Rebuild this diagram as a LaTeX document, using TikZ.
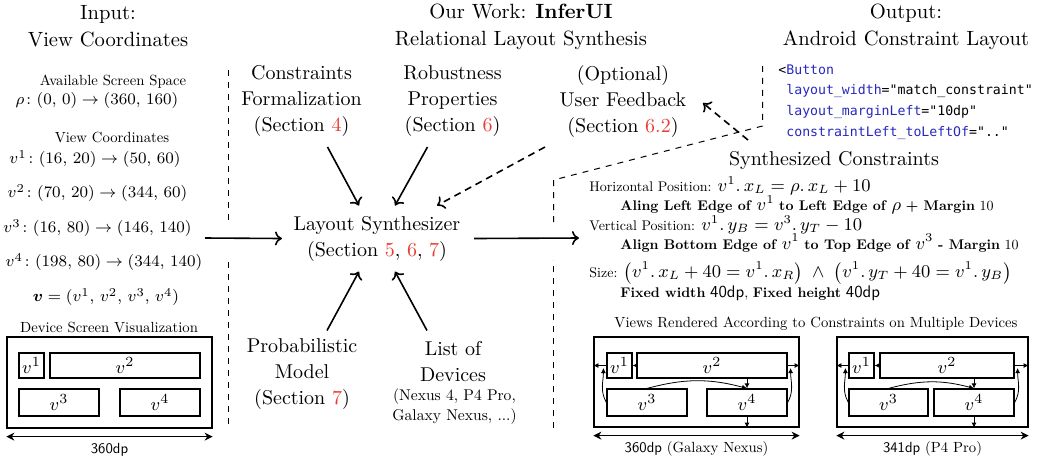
\documentclass[tikz,border=0pt]{standalone}
\usepackage{amsmath}
\usepackage{fontspec}
\setmainfont{lmroman10-regular.otf}[BoldFont=lmroman10-bold.otf, ItalicFont=lmroman10-italic.otf, BoldItalicFont=lmroman10-bolditalic.otf]
\setsansfont{lmsans10-regular.otf}[BoldFont=lmsans10-bold.otf]
\setmonofont{DejaVu Sans Mono}
\usetikzlibrary{arrows.meta,calc}
\definecolor{secred}{RGB}{232,60,50}
\definecolor{codeblue}{RGB}{40,40,190}
\newcommand{\sref}[1]{\textcolor{secred}{#1}}
\newcommand{\mm}[1]{{\fontsize{8.8}{10}\selectfont$#1$}}
\newcommand{\dd}{\mathpunct{.}}
\newcommand{\cm}{,\,}
\tikzset{
  ttl/.style={align=center, font=\fontsize{10.3}{13.5}\selectfont, inner sep=0},
  lbl/.style={align=center, font=\fontsize{10}{13}\selectfont, inner sep=0},
  sml/.style={align=center, font=\fontsize{7.8}{10}\selectfont, inner sep=0},
  sub/.style={font=\fontsize{7.35}{9}\selectfont, inner sep=0},
  mth/.style={font=\fontsize{8}{10}\selectfont, inner sep=0},
  con/.style={font=\fontsize{7}{9}\selectfont, inner sep=0, anchor=west},
  code/.style={font=\ttfamily\fontsize{6.6}{10}\selectfont, inner sep=0, anchor=west},
  arr/.style={line width=0.8pt, -{To[length=3.5pt,width=7pt]}},
  darr/.style={arr, dash pattern=on 3.5pt off 2.5pt},
  sepl/.style={line width=0.5pt, dash pattern=on 3pt off 3pt},
  outer/.style={draw, line width=0.6pt, inner sep=0, minimum height=45pt},
  vb/.style={draw, line width=0.6pt, inner sep=0, font=\fontsize{9.5}{10}\selectfont},
  vt/.style={vb, minimum height=12.5pt},
  vw/.style={vb, minimum height=13.5pt},
  tinyarr/.style={line width=0.4pt, -{Latex[length=2.5pt,width=2.5pt]}},
  dim/.style={line width=0.6pt, {Stealth[length=4pt,width=4pt]}-{Stealth[length=4pt,width=4pt]}},
}
\begin{document}
\begin{tikzpicture}[x=0.5pt,y=-0.5pt]
\useasboundingbox (0,0) rectangle (1047,462);

% titles
\node[ttl] (t1) at (108,26.5) {Input:\\View Coordinates};
\node[ttl] (t2) at (521,26.5) {Our Work: \textbf{InferUI}\\Relational Layout Synthesis};
\node[ttl] (t3) at (906,26.5) {Output:\\Android Constraint Layout};

% left column
\node[sub] (as1) at (113,82) {Available Screen Space};
\node[mth] (rho) at (97,100) {$\rho\colon (0\cm 0) \rightarrow (360\cm 160)$};
\node[sub] (vc) at (112,137) {View Coordinates};
\node[mth] (p1) at (95,159) {$v^1\colon (16\cm 20) \rightarrow (50\cm 60)$};
\node[mth] (p2) at (97.5,193) {$v^2\colon (70\cm 20) \rightarrow (344\cm 60)$};
\node[mth] (p3) at (97.5,228) {$v^3\colon (16\cm 80) \rightarrow (146\cm 140)$};
\node[mth] (p4) at (104,262) {$v^4\colon (198\cm 80) \rightarrow (344\cm 140)$};
\node[mth] (pv) at (106,297) {$\boldsymbol{v} = (v^1\cm v^2\cm v^3\cm v^4)$};
\node[sub] (dsv) at (109,327) {Device Screen Visualization};

% left device
\node[outer, minimum width=102.5pt, minimum height=45.5pt] (Lo) at (109.5,382.5) {};
\node[vt, minimum width=12.5pt] (L1) at (31.5,365.5) {$v^1$};
\node[vt, minimum width=75pt] (L2) at (125,365.5) {$v^2$};
\node[vw, minimum width=40pt] (L3) at (59,402.5) {$v^3$};
\node[vw, minimum width=40pt] (L4) at (160,402.5) {$v^4$};
\draw[dim] ($(Lo.south west)+(0,8)$) -- ($(Lo.south east)+(0,8)$);
\node[sub] (Ld) at ($(Lo.south)+(0,21)$) {\textsf{360dp}};

% separators
\draw[sepl] (228.5,70) -- (228.5,222);
\draw[sepl] (228.5,262) -- (228.5,428);
\draw[sepl] (553.5,428) -- (553.5,260);
\draw[sepl] (553.5,222) -- (553.5,180) -- (762.5,126) -- (762.5,66);

% middle
\node[lbl] (cf) at (301.5,101) {Constraints\\Formalization\\(Section \sref{4})};
\node[lbl] (rp) at (452.5,101) {Robustness\\Properties\\(Section \sref{6})};
\node[lbl] (uf) at (623,101) {(Optional)\\User Feedback\\(Section \sref{6.2})};
\node[lbl] (ls) at (377,238.5) {Layout Synthesizer\\(Section \sref{5}, \sref{6}, \sref{7})};
\node[lbl] (pm) at (302,374.5) {Probabilistic\\Model\\(Section \sref{7})};
\node[lbl] (ld) at (453,361.5) {List of\\Devices};
\node[sml] (ldx) at (454.5,407) {(Nexus 4, P4 Pro,\\Galaxy Nexus, ...)};

\coordinate (inp) at (205,238);
\coordinate (outp) at (579,238);

\draw[arr] ($(cf)+(26,46)$) -- ($(ls)+(-18,-33)$);
\draw[arr] ($(rp)+(-25,46)$) -- ($(ls)+(18,-33)$);
\draw[darr] ($(uf)+(-78,46)$) -- ($(ls)+(60,-33)$);
\draw[arr] ($(pm)+(25,-44)$) -- ($(ls)+(-18,33)$);
\draw[arr] ($(ld)+(-26,-31)$) -- ($(ls)+(18,33)$);
\draw[arr] (inp) -- ($(ls)+(-95,0)$);
\draw[arr] ($(ls)+(97,0)$) -- (outp);

% output: code
\node[code] (k1) at (778,70) {<\textcolor{codeblue}{Button}};
\node[code] (k2) at (778,91) {\hphantom{<}\textcolor{codeblue}{layout\_width}="match\_constraint"};
\node[code] (k3) at (778,112) {\hphantom{<}\textcolor{codeblue}{layout\_marginLeft}="10dp"};
\node[code] (k4) at (778,133) {\hphantom{<}\textcolor{codeblue}{constraintLeft\_toLeftOf}=".."};

\node[lbl] (sc) at (834,160) {Synthesized Constraints};
\draw[darr] ($(sc)+(-86,-20)$) -- ($(uf)+(80,2)$);

\node[con] (c1) at (589,186) {Horizontal Position: \mm{v^1\dd x_L = \rho\dd x_L + 10}};
\node[con] (c2) at (620,205) {\textbf{Aling Left Edge of} \mm{v^1} \textbf{to Left Edge of} \mm{\rho} \textbf{+ Margin} 10};
\node[con] (c3) at (589,225) {Vertical Position: \mm{v^1\dd y_B = v^3\dd y_T - 10}};
\node[con] (c4) at (620,243) {\textbf{Align Bottom Edge of} \mm{v^1} \textbf{to Top Edge of} \mm{v^3} \textbf{- Margin} 10};
\node[con] (c5) at (589,273) {Size: \mm{\bigl(v^1\dd x_L + 40 = v^1\dd x_R\bigr) \;\land\; \bigl(v^1\dd y_T + 40 = v^1\dd y_B\bigr)}};
\node[con] (c6) at (620,293) {\textbf{Fixed width} {\fontsize{8.4}{9}\selectfont\textsf{40dp}}, \textbf{Fixed height} {\fontsize{8.4}{9}\selectfont\textsf{40dp}}};

\node[sub] (vr) at (816,324) {Views Rendered According to Constraints on Multiple Devices};

% device A (Galaxy Nexus)
\node[outer, minimum width=102.5pt] (Ao) at (696.5,382) {};
\node[vt, minimum width=12.5pt] (A1) at (619.5,365.5) {$v^1$};
\node[vt, minimum width=75pt] (A2) at (712,365.5) {$v^2$};
\node[vw, minimum width=40pt] (A3) at (647,402.5) {$v^3$};
\node[vw, minimum width=40pt] (A4) at (747,402.5) {$v^4$};
\draw[tinyarr] (A1.west) -- (A1.west -| Ao.west);
\draw[tinyarr] (A2.west) -- (A1.east);
\draw[tinyarr] (A2.east) -- (A2.east -| Ao.east);
\draw[tinyarr] (A2.south -| A4) -- (A4.north);
\draw[tinyarr] (A4.south) -- (A4.south |- Ao.south);
\draw[tinyarr] (A3.north) to[bend left=15] (A4.north);
\draw[tinyarr] (A3.west) to[out=120,in=-90] ($(A1.west)+(-3,2.5)$);
\draw[tinyarr] (A4.east) to[out=60,in=-90] ($(A2.east)+(3,2.5)$);
\draw[dim] ($(Ao.south west)+(0,8)$) -- ($(Ao.south east)+(0,8)$);
\node[sub] (Ad) at ($(Ao.south)+(0,21)$) {\textsf{360dp} (Galaxy Nexus)};

% device B (P4 Pro)
\node[outer, minimum width=95.5pt] (Bo) at (932.5,382) {};
\node[vt, minimum width=12.5pt] (B1) at (861.5,365.5) {$v^1$};
\node[vt, minimum width=67pt] (B2) at (947,365.5) {$v^2$};
\node[vw, minimum width=39.5pt] (B3) at (888.5,402.5) {$v^3$};
\node[vw, minimum width=40pt] (B4) at (974,402.5) {$v^4$};
\draw[tinyarr] (B1.west) -- (B1.west -| Bo.west);
\draw[tinyarr] (B2.west) -- (B1.east);
\draw[tinyarr] (B2.east) -- (B2.east -| Bo.east);
\draw[tinyarr] (B2.south -| B4) -- (B4.north);
\draw[tinyarr] (B4.south) -- (B4.south |- Bo.south);
\draw[tinyarr] (B3.north) to[bend left=15] (B4.north);
\draw[tinyarr] (B3.west) to[out=120,in=-90] ($(B1.west)+(-3,2.5)$);
\draw[tinyarr] (B4.east) to[out=60,in=-90] ($(B2.east)+(3,2.5)$);
\draw[dim] ($(Bo.south west)+(0,8)$) -- ($(Bo.south east)+(0,8)$);
\node[sub] (Bd) at ($(Bo.south)+(0,21)$) {\textsf{341dp} (P4 Pro)};
\end{tikzpicture}
\end{document}
